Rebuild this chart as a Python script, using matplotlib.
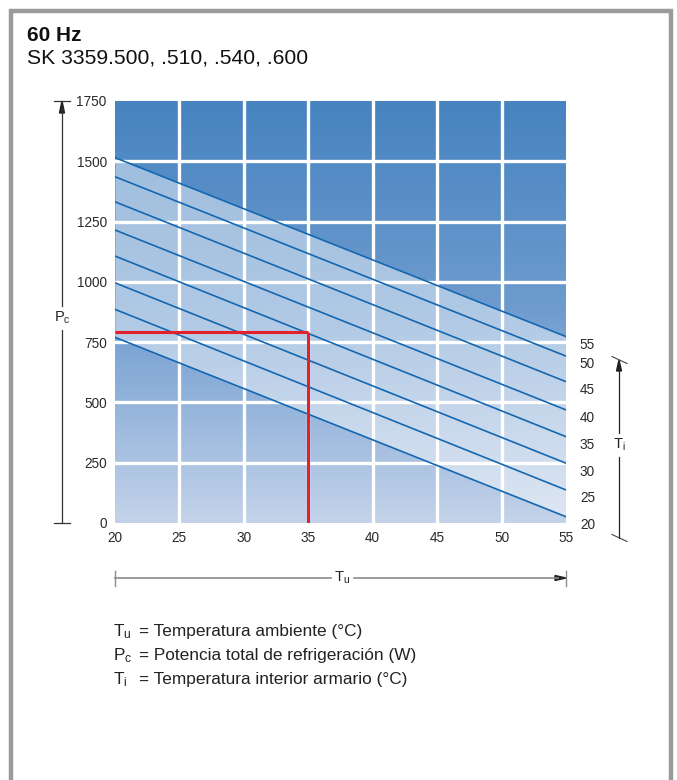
import numpy as np
import matplotlib
matplotlib.use("Agg")
import matplotlib.pyplot as plt
from matplotlib.colors import LinearSegmentedColormap
from matplotlib.patches import Rectangle

plt.rcParams['font.family'] = ['Liberation Sans', 'DejaVu Sans']
plt.rcParams['mathtext.default'] = 'regular'

# === Data ===
tu_ends = [20, 55]                      # ambient temperature (°C), line end points
ti_labels = [55, 50, 45, 40, 35, 30, 25, 20]   # interior temperature curves
pc_at_20 = [1515, 1436, 1332, 1215, 1107, 996, 886, 770]
pc_at_55 = [773, 692, 586, 469, 358, 248, 137, 26]
example_tu = 35
example_pc = 790
x_ticks = [20, 25, 30, 35, 40, 45, 50, 55]
y_ticks = [0, 250, 500, 750, 1000, 1250, 1500, 1750]

W, H = 677, 780
fig = plt.figure(figsize=(W / 100, H / 100), dpi=100)


def fx(x):
    return x / W


def fy(y):
    return 1 - y / H


# === Gray frame ===
fig.patches.append(Rectangle((fx(10.5), fy(1000)), fx(660), (1000 - 10.5) / H,
                             transform=fig.transFigure, fill=False,
                             edgecolor='#9a9a9a', lw=3.2))

fig.text(fx(27), fy(41), '60 Hz', fontsize=15, fontweight='bold',
         va='baseline', color='#111')
fig.text(fx(27), fy(63), 'SK 3359.500, .510, .540, .600', fontsize=15.2,
         va='baseline', color='#111')

# === Main axes ===
ax = fig.add_axes([fx(115), fy(523), fx(451), (523 - 101) / H])
cmap = LinearSegmentedColormap.from_list('bg', ['#4683bf', '#6f9ccf', '#c4d3ea'])
grad = np.linspace(0, 1, 256).reshape(-1, 1)
ax.imshow(grad, cmap=cmap, extent=[20, 55, 0, 1750], aspect='auto',
          vmin=0, vmax=1, zorder=0)

ax.fill_between(tu_ends, [pc_at_20[-1], pc_at_55[-1]],
                [pc_at_20[0], pc_at_55[0]], color='white', alpha=0.45,
                lw=0, zorder=1)

for x in x_ticks[1:-1]:
    ax.axvline(x, color='white', lw=2.4, zorder=2)
for y in y_ticks[1:-1]:
    ax.axhline(y, color='white', lw=2.4, zorder=2)

for t, a, b in zip(ti_labels, pc_at_20, pc_at_55):
    ax.plot(tu_ends, [a, b], color='#1467b0', lw=1.2, zorder=3)
    ax.annotate(str(t), (55, b), xytext=(10, -6), textcoords='offset points',
                fontsize=9.8, color='#2a2a2a', va='center', ha='left',
                annotation_clip=False)

ax.plot([20, example_tu], [example_pc, example_pc], color='#e3202b', lw=2.2,
        zorder=4, solid_capstyle='butt')
ax.plot([example_tu, example_tu], [0, example_pc], color='#e3202b', lw=2.2,
        zorder=4, solid_capstyle='butt')

ax.set_xlim(20, 55)
ax.set_ylim(0, 1750)
ax.set_xticks(x_ticks)
ax.set_yticks(y_ticks)
ax.tick_params(length=0, labelsize=9.8, colors='#2a2a2a', pad=6)
ax.tick_params(axis='y', pad=6)
for s in ax.spines.values():
    s.set_visible(False)

# === P_c axis arrow (left) ===
ax_lw = 0.9
fig.lines.append(plt.Line2D([fx(62), fx(62)], [fy(523), fy(330)],
                            transform=fig.transFigure, color='#333', lw=ax_lw))
fig.lines.append(plt.Line2D([fx(62), fx(62)], [fy(306), fy(108)],
                            transform=fig.transFigure, color='#333', lw=ax_lw))
for y in (101, 523):
    fig.lines.append(plt.Line2D([fx(54), fx(70)], [fy(y), fy(y)],
                                transform=fig.transFigure, color='#333', lw=ax_lw))
fig.patches.append(plt.Polygon([[fx(62), fy(101)], [fx(59.5), fy(113)],
                                [fx(64.5), fy(113)]], closed=True,
                               transform=fig.transFigure, color='#222'))
fig.text(fx(62), fy(318), '$P_c$', fontsize=10.5, ha='center', va='center',
         color='#222')

# === T_u axis arrow (bottom) ===
gray = '#8c8c8c'
fig.lines.append(plt.Line2D([fx(115), fx(331)], [fy(578), fy(578)],
                            transform=fig.transFigure, color=gray, lw=1.2))
fig.lines.append(plt.Line2D([fx(354), fx(558)], [fy(578), fy(578)],
                            transform=fig.transFigure, color=gray, lw=1.2))
for x in (115, 566):
    fig.lines.append(plt.Line2D([fx(x), fx(x)], [fy(571), fy(586)],
                                transform=fig.transFigure, color=gray, lw=1.0))
fig.patches.append(plt.Polygon([[fx(566), fy(578)], [fx(555), fy(575.5)],
                                [fx(555), fy(580.5)]], closed=True,
                               transform=fig.transFigure, color='#222'))
fig.text(fx(342), fy(578), '$T_u$', fontsize=10.5, ha='center', va='center',
         color='#222')

# === T_i axis arrow (right) ===
fig.lines.append(plt.Line2D([fx(619), fx(619)], [fy(538), fy(457)],
                            transform=fig.transFigure, color='#222', lw=ax_lw))
fig.lines.append(plt.Line2D([fx(619), fx(619)], [fy(433), fy(368)],
                            transform=fig.transFigure, color='#222', lw=ax_lw))
for y in (360, 538):
    fig.lines.append(plt.Line2D([fx(612), fx(627)], [fy(y - 3.5), fy(y + 3.5)],
                                transform=fig.transFigure, color='#444', lw=0.8))
fig.patches.append(plt.Polygon([[fx(619), fy(360)], [fx(616.5), fy(371)],
                                [fx(621.5), fy(371)]], closed=True,
                               transform=fig.transFigure, color='#222'))
fig.text(fx(619), fy(445), '$T_i$', fontsize=10.5, ha='center', va='center',
         color='#222')

# === Legend text ===
legend_sym = ['$T_u$', '$P_c$', '$T_i$']
legend_txt = ['= Temperatura ambiente (°C)',
              '= Potencia total de refrigeración (W)',
              '= Temperatura interior armario (°C)']
for i, (s, t) in enumerate(zip(legend_sym, legend_txt)):
    y = 636 + 24 * i
    fig.text(fx(113), fy(y), s, fontsize=12.4, va='baseline', color='#222')
    fig.text(fx(139), fy(y), t, fontsize=12.4, va='baseline', color='#222')

fig.savefig('out.png', dpi=100)
